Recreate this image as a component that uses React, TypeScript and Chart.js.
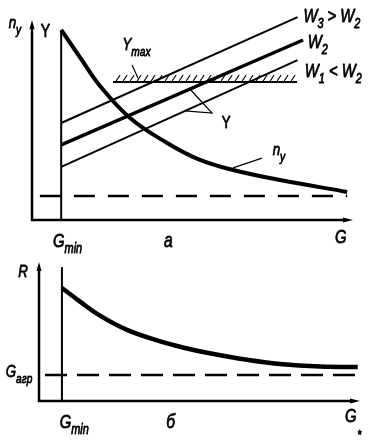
import { useEffect, useRef } from "react";
import { Chart, registerables } from "chart.js";
Chart.register(...registerables);

// ---- data (top panel "а") ----
const gMin = 1;
const nyG = [1.0, 1.64, 2.33, 3.36, 4.63, 5.76, 6.89, 8.5, 10.8];
const nyVal = [9.27, 7.95, 6.54, 4.98, 3.76, 2.93, 2.44, 1.95, 1.37];
const w3G = [1, 9.1];
const w3Val = [4.73, 9.9];
const w2G = [1, 9.29];
const w2Val = [3.66, 8.78];
const w1G = [1, 9.1];
const w1Val = [2.59, 7.8];
const yMaxG = [2.78, 9.08];
const yMaxVal = 6.73;
const nyLimG = [0.27, 10.8];
const nyLimVal = 1.17;
const gMinTopA = 9.27;

// ---- data (bottom panel "б") ----
const rG = [1.0, 1.79, 2.66, 3.84, 5.15, 6.37, 7.33, 9.07, 10.5, 12.25, 13.9];
const rVal = [8.01, 7.05, 6.05, 5.04, 4.3, 3.76, 3.42, 2.92, 2.62, 2.44, 2.41];
const gAgrG = [0.26, 13.9];
const gAgrVal = 1.84;
const gMinTopB = 9.5;

const FONT = '"Liberation Sans", "DejaVu Sans", sans-serif';
const SQUEEZE = 0.78;

type Label = { t: string; x: number; y: number; size: number; italic?: boolean };

const pts = (xs: number[], ys: number[]) => xs.map((x, i) => ({ x, y: ys[i] }));
const hz = (xs: number[], v: number) => xs.map((x) => ({ x, y: v }));

function ds(data: any[], width: number, extra: any = {}) {
  return {
    data,
    borderColor: "#000",
    borderWidth: width,
    pointRadius: 0,
    fill: false,
    clip: false as any,
    borderCapStyle: "butt",
    tension: 0,
    ...extra,
  };
}

function drawLabel(ctx: CanvasRenderingContext2D, px: number, py: number, l: Label) {
  const parts = l.t.split(/(_\S+)/).filter((p) => p.length);
  const st = l.italic === false ? "" : "italic ";
  ctx.save();
  ctx.translate(px, py);
  ctx.scale(SQUEEZE, 1);
  ctx.lineWidth = 0.8;
  ctx.lineJoin = "round";
  let cx = 0;
  for (const p of parts) {
    if (p.startsWith("_")) {
      const s = p.slice(1);
      ctx.font = `${st}${Math.round(l.size * 0.74)}px ${FONT}`;
      ctx.fillText(s, cx, l.size * 0.33);
      ctx.strokeText(s, cx, l.size * 0.33);
      cx += ctx.measureText(s).width;
    } else {
      ctx.font = `${st}${l.size}px ${FONT}`;
      ctx.fillText(p, cx, 0);
      ctx.strokeText(p, cx, 0);
      cx += ctx.measureText(p).width;
    }
  }
  ctx.restore();
}

const decor = {
  id: "decor",
  afterDatasetsDraw(chart: any, _a: any, opts: any) {
    const { ctx, chartArea: a, scales } = chart;
    const x = scales.x;
    const y = scales.y;
    ctx.save();
    ctx.strokeStyle = "#000";
    ctx.fillStyle = "#000";
    ctx.lineWidth = opts.axisWidth;
    const tipY = y.getPixelForValue(opts.yTip);
    const tipX = x.getPixelForValue(opts.xTip);
    ctx.beginPath();
    ctx.moveTo(a.left, a.bottom + 1);
    ctx.lineTo(a.left, tipY + 6);
    ctx.moveTo(a.left - 1, a.bottom);
    ctx.lineTo(tipX - 7, a.bottom);
    ctx.stroke();
    ctx.beginPath();
    ctx.moveTo(a.left, tipY);
    ctx.lineTo(a.left - 2.5, tipY + 9);
    ctx.lineTo(a.left + 2.5, tipY + 9);
    ctx.closePath();
    ctx.fill();
    ctx.beginPath();
    ctx.moveTo(tipX, a.bottom);
    ctx.lineTo(tipX - 10, a.bottom - 2.5);
    ctx.lineTo(tipX - 10, a.bottom + 2.5);
    ctx.closePath();
    ctx.fill();
    if (opts.hatch) {
      const h = opts.hatch;
      const p1 = x.getPixelForValue(h.x0);
      const p2 = x.getPixelForValue(h.x1);
      const py = y.getPixelForValue(h.v);
      ctx.lineWidth = 1.2;
      ctx.beginPath();
      for (let px = p1 + 3; px < p2 - 2; px += 7) {
        ctx.moveTo(px, py - 1);
        ctx.lineTo(px + 4, py - 7);
      }
      ctx.stroke();
    }
    ctx.textBaseline = "alphabetic";
    for (const l of opts.labels as Label[]) {
      drawLabel(ctx, x.getPixelForValue(l.x), y.getPixelForValue(l.y), l);
    }
    ctx.restore();
  },
};

const labelsA: Label[] = [
  { t: "n_y", x: -0.8, y: 9.35, size: 17 },
  { t: "Y", x: 0.3, y: 8.93, size: 18, italic: false },
  { t: "Y_max", x: 3.1, y: 8.29, size: 17 },
  { t: "W_3 > W_2", x: 9.3, y: 9.65, size: 19 },
  { t: "W_2", x: 9.45, y: 8.39, size: 19 },
  { t: "W_1 < W_2", x: 9.35, y: 6.98, size: 19 },
  { t: "Y", x: 6.5, y: 4.5, size: 17, italic: false },
  { t: "n_y", x: 8.25, y: 3.17, size: 17 },
  { t: "G_min", x: 0.72, y: -1.32, size: 19 },
  { t: "а", x: 4.52, y: -1.32, size: 20 },
  { t: "G", x: 10.38, y: -1.12, size: 19 },
];

const labelsB: Label[] = [
  { t: "R", x: -0.9, y: 8.8, size: 17 },
  { t: "G_агр", x: -1.45, y: 1.7, size: 17 },
  { t: "G_min", x: 0.9, y: -1.9, size: 19 },
  { t: "б", x: 5.55, y: -1.9, size: 20 },
  { t: "G", x: 13.35, y: -1.48, size: 19 },
  { t: "*", x: 13.9, y: -2.7, size: 13, italic: false },
];

function makeChart(canvas: HTMLCanvasElement, datasets: any[], pad: any, xMax: number, deco: any) {
  return new Chart(canvas, {
    type: "line",
    data: { datasets },
    options: {
      animation: false,
      responsive: false,
      devicePixelRatio: 1,
      layout: { padding: pad },
      plugins: {
        legend: { display: false },
        tooltip: { enabled: false },
        decor: deco,
      } as any,
      scales: {
        x: { type: "linear", min: 0, max: xMax, display: false },
        y: { type: "linear", min: 0, max: 10, display: false },
      },
    },
    plugins: [decor as any],
  });
}

export default function App() {
  const topRef = useRef<HTMLCanvasElement>(null);
  const botRef = useRef<HTMLCanvasElement>(null);

  useEffect(() => {
    const top = makeChart(
      topRef.current!,
      [
        ds(pts(w3G, w3Val), 2),
        ds(pts(w2G, w2Val), 3.5),
        ds(pts(w1G, w1Val), 2),
        ds(hz(yMaxG, yMaxVal), 2),
        ds(pts(nyG, nyVal), 4, { tension: 0.4 }),
        ds(hz(nyLimG, nyLimVal), 2.5, { borderDash: [21, 13] }),
        ds(pts([gMin, gMin], [0, gMinTopA]), 2),
        ds(pts([3.43, 3.63], [7.56, 6.93]), 1.2),
        ds(pts([5.41, 6.17, 5.24], [6.39, 5.22, 5.32]), 1.2),
        ds(pts([6.89, 7.88], [2.54, 3.02]), 1.2),
      ],
      { left: 32, right: 24, top: 15, bottom: 42 },
      11,
      {
        axisWidth: 2.5,
        yTip: 9.76,
        xTip: 11,
        hatch: { x0: yMaxG[0], x1: yMaxG[1], v: yMaxVal },
        labels: labelsA,
      }
    );
    const bot = makeChart(
      botRef.current!,
      [
        ds(pts(rG, rVal), 4.5, { tension: 0.4 }),
        ds(hz(gAgrG, gAgrVal), 2.5, { borderDash: [22, 10] }),
        ds(pts([gMin, gMin], [0, gMinTopB]), 2),
      ],
      { left: 39, right: 17, top: 10, bottom: 42 },
      14,
      { axisWidth: 2.5, yTip: 9.86, xTip: 14, labels: labelsB }
    );
    return () => {
      top.destroy();
      bot.destroy();
    };
  }, []);

  return (
    <div style={{ position: "fixed", left: 0, top: 0, width: 377, height: 443, background: "#fff" }}>
      <canvas ref={botRef} width={377} height={193} style={{ position: "absolute", left: 0, top: 250, width: 377, height: 193 }} />
      <canvas ref={topRef} width={377} height={262} style={{ position: "absolute", left: 0, top: 0, width: 377, height: 262 }} />
    </div>
  );
}
